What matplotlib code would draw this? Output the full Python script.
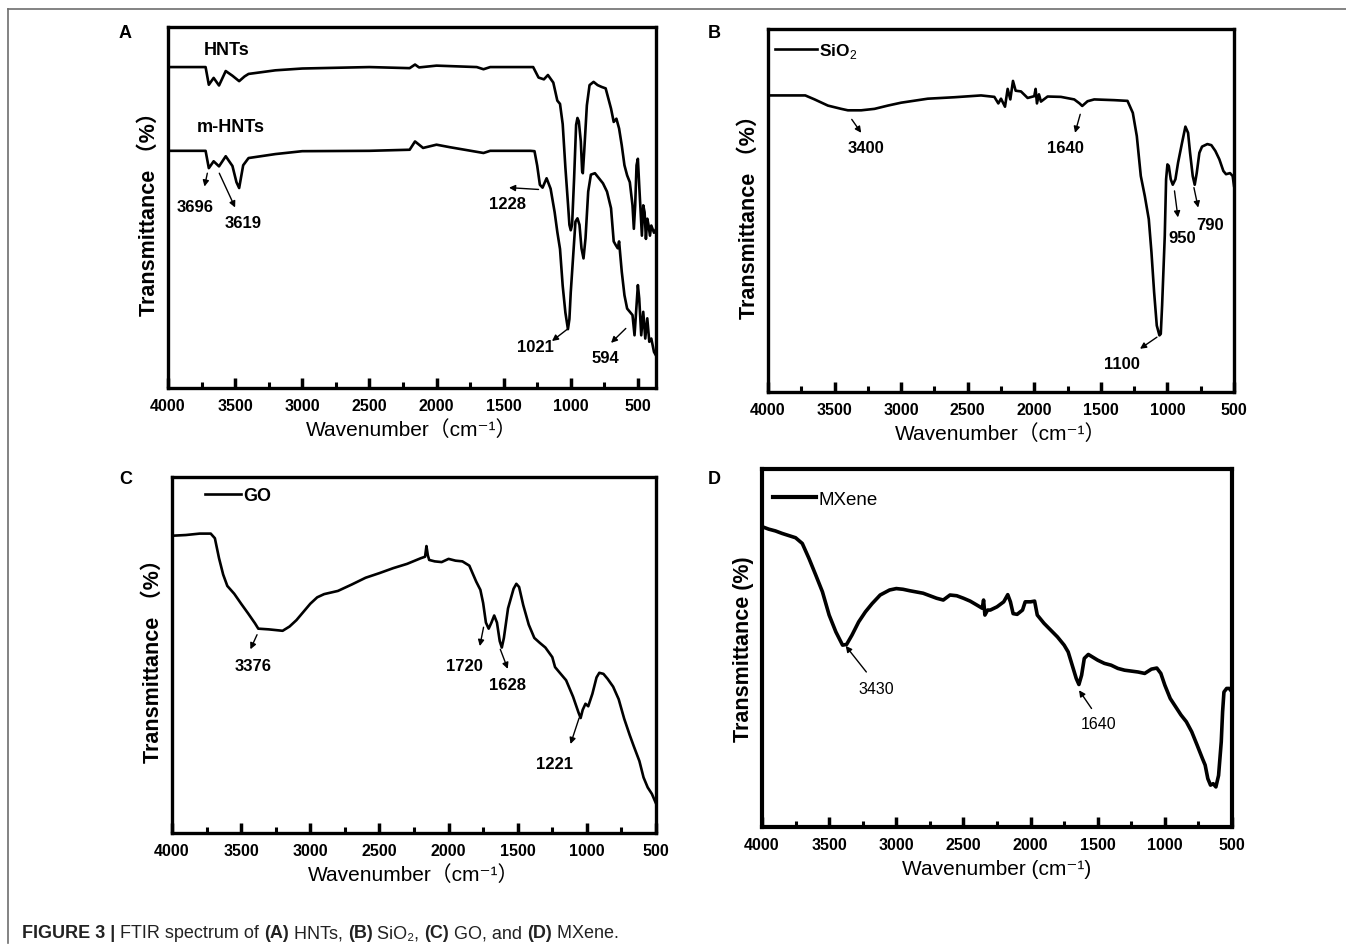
import numpy as np
import matplotlib
matplotlib.use("Agg")
import matplotlib.pyplot as plt
from matplotlib.ticker import MultipleLocator
from matplotlib.lines import Line2D

plt.rcParams["font.family"] = ["Liberation Sans", "Noto Sans CJK SC", "DejaVu Sans"]
plt.rcParams["mathtext.fontset"] = "custom"
plt.rcParams["mathtext.rm"] = "Liberation Sans"
plt.rcParams["mathtext.bf"] = "Liberation Sans:bold"

# ---- data (wavenumber cm-1, transmittance in arbitrary units 0-100) ----
hnts_wn = [4000, 3720, 3696, 3660, 3620, 3570, 3520, 3470, 3430, 3400, 3200, 3000, 2500, 2200, 2160,
           2130, 2000, 1700, 1650, 1600, 1300, 1280, 1240, 1200, 1170, 1130, 1100, 1080, 1060, 1040,
           1020, 1010, 1000, 990, 975, 960, 950, 940, 925, 915, 910, 900, 880, 860, 830, 800, 770,
           740, 720, 700, 680, 660, 640, 620, 600, 580, 560, 540, 530, 520, 510, 500, 490, 470, 460,
           450, 440, 430, 420, 410, 400, 380, 365]
hnts_t = [88.9, 88.9, 84.0, 85.9, 83.8, 87.8, 86.5, 85.0, 86.3, 87.0, 88.0, 88.5, 88.9, 88.6, 89.6,
          88.8, 89.3, 88.9, 88.3, 88.9, 88.9, 88.9, 86.0, 85.5, 86.7, 84.6, 79.6, 78.7, 73.1, 61.1,
          50.7, 45.2, 43.7, 45.2, 58.1, 72.9, 74.8, 73.9, 68.3, 60.0, 59.5, 65.4, 78.3, 83.9, 84.8,
          83.9, 83.4, 83.0, 80.2, 77.4, 73.7, 74.6, 71.9, 67.2, 61.7, 58.9, 57.0, 50.6, 44.1, 50.6,
          61.7, 63.5, 56.1, 42.2, 50.6, 48.7, 41.3, 46.9, 45.0, 42.2, 45.0, 43.0, 44.0]

mhnts_wn = [4000, 3720, 3696, 3660, 3620, 3570, 3520, 3490, 3470, 3440, 3400, 3200, 3000, 2500, 2200,
            2160, 2100, 2000, 1900, 1650, 1600, 1300, 1270, 1250, 1230, 1210, 1180, 1150, 1120,
            1100, 1080, 1060, 1040, 1021, 1010, 1000, 980, 965, 950, 935, 920, 905, 890, 870, 850,
            820, 790, 760, 730, 700, 680, 665, 650, 640, 620, 600, 580, 560, 540, 525, 510, 500,
            490, 475, 460, 445, 430, 415, 400, 380, 365]
mhnts_t = [65.7, 65.7, 60.9, 62.8, 61.4, 64.2, 61.5, 57.0, 55.4, 61.7, 63.7, 64.8, 65.6, 65.7, 66.0,
           68.3, 66.5, 67.4, 66.7, 65.1, 65.7, 65.7, 65.6, 61.6, 56.3, 55.5, 58.1, 55.2, 48.7,
           43.2, 38.5, 28.3, 20.9, 16.3, 19.1, 26.5, 37.7, 46.1, 47.0, 45.2, 38.7, 35.9, 41.5, 54.4,
           59.1, 59.5, 58.1, 56.7, 54.4, 49.8, 40.6, 39.6, 38.7, 40.6, 32.2, 25.7, 22.0, 21.1, 20.2,
           14.6, 22.9, 28.5, 24.8, 14.6, 21.1, 13.7, 19.3, 12.8, 13.7, 10.0, 9.0]

sio2_wn = [4000, 3720, 3650, 3550, 3450, 3400, 3300, 3200, 3100, 3000, 2800, 2600, 2400, 2300, 2270,
           2250, 2220, 2200, 2180, 2160, 2140, 2100, 2050, 2000, 1990, 1980, 1965, 1950, 1900, 1800,
           1700, 1660, 1640, 1600, 1550, 1400, 1300, 1260, 1230, 1200, 1170, 1140, 1120, 1100,
           1080, 1060, 1050, 1040, 1020, 1010, 1000, 990, 975, 960, 940, 920, 890, 865, 845, 830,
           810, 795, 780, 760, 740, 700, 670, 640, 610, 580, 560, 530, 510, 500]
sio2_t = [81.7, 81.7, 80.6, 78.9, 78.0, 77.6, 77.6, 78.0, 78.9, 79.7, 80.8, 81.2, 81.7, 81.3, 79.5,
          80.8, 78.6, 83.5, 80.6, 85.7, 83.0, 82.8, 81.0, 81.5, 83.5, 79.5, 82.0, 80.0, 81.4, 81.3,
          80.6, 79.5, 78.8, 80.1, 80.6, 80.4, 80.2, 76.9, 70.5, 59.5, 54.0, 47.6, 38.5, 27.5,
          18.3, 15.6, 16.0, 23.8, 43.0, 58.6, 62.7, 62.3, 58.6, 57.1, 58.6, 63.2, 68.7, 73.1, 71.4,
          65.9, 59.5, 57.1, 60.3, 65.9, 67.6, 68.3, 68.0, 66.4, 64.1, 60.9, 60.0, 60.3, 59.5, 56.8]

go_wn = [4000, 3900, 3800, 3720, 3690, 3660, 3630, 3600, 3550, 3500, 3450, 3400, 3376, 3300, 3200,
         3150, 3100, 3000, 2950, 2900, 2800, 2700, 2600, 2500, 2400, 2300, 2200, 2170, 2160, 2150,
         2140, 2100, 2050, 2000, 1950, 1900, 1850, 1800, 1770, 1750, 1730, 1710, 1690, 1670, 1650,
         1630, 1615, 1600, 1570, 1530, 1510, 1490, 1460, 1420, 1380, 1340, 1300, 1250, 1230,
         1200, 1150, 1100, 1060, 1045, 1030, 1010, 990, 960, 930, 910, 880, 850, 810, 770, 730,
         690, 660, 620, 590, 560, 530, 500]
go_t = [83.5, 83.7, 84.1, 84.1, 82.8, 77.2, 72.6, 69.4, 67.2, 64.4, 61.7, 58.9, 57.4, 57.2, 56.8,
        58.0, 59.8, 64.4, 66.2, 67.1, 68.0, 69.8, 71.7, 73.0, 74.4, 75.6, 77.2, 77.6, 80.6, 78.0,
        76.7, 76.3, 76.1, 77.0, 76.5, 76.3, 75.1, 70.6, 68.3, 64.6, 59.1, 57.4, 59.1, 61.1, 59.1,
        53.9, 52.1, 54.8, 63.1, 68.6, 70.0, 69.1, 64.0, 58.5, 54.8, 53.4, 52.1, 49.4, 46.6,
        45.2, 42.9, 38.3, 33.8, 32.3, 34.6, 36.3, 35.6, 39.1, 43.7, 45.0, 44.7, 43.3, 41.1, 37.6,
        32.1, 27.5, 24.3, 20.2, 15.6, 12.8, 11.0, 8.3]

mx_wn = [4000, 3950, 3900, 3850, 3800, 3750, 3700, 3650, 3600, 3550, 3500, 3450, 3400, 3370, 3330,
         3280, 3230, 3180, 3120, 3050, 3000, 2950, 2900, 2800, 2700, 2650, 2600, 2550, 2500, 2450,
         2400, 2360, 2350, 2340, 2320, 2300, 2250, 2200, 2170, 2150, 2130, 2100, 2060, 2040, 2000,
         1970, 1950, 1900, 1850, 1800, 1750, 1720, 1690, 1660, 1640, 1620, 1600, 1570, 1500, 1450,
         1400, 1350, 1300, 1200, 1150, 1100, 1060, 1030, 1000, 960, 920, 880, 840, 800, 760, 720,
         700, 680, 660, 640, 620, 600, 580, 570, 560, 540, 520, 500]
mx_t = [83.9, 83.2, 82.7, 82.0, 81.4, 80.8, 79.2, 75.0, 70.4, 65.7, 59.2, 54.5, 50.8, 51.0, 53.6,
        57.3, 60.1, 62.4, 64.8, 66.2, 66.6, 66.4, 66.0, 65.3, 63.9, 63.4, 64.8, 64.6, 63.9, 63.1,
        62.0, 61.1, 63.4, 59.2, 60.6, 60.6, 61.5, 62.9, 64.9, 62.9, 59.6, 59.4, 60.6, 62.9, 62.9,
        63.1, 59.2, 56.9, 55.0, 53.1, 50.8, 48.9, 45.2, 41.5, 39.8, 42.4, 47.1, 48.2, 46.6, 45.7,
        45.2, 44.3, 43.8, 43.3, 42.9, 44.1, 44.4, 42.9, 39.6, 35.9, 33.6, 31.3, 29.4, 26.6, 22.9,
        19.1, 17.3, 13.5, 11.7, 12.1, 11.2, 14.4, 23.8, 32.2, 37.7, 38.7, 38.7, 37.7]

xticks = [4000, 3500, 3000, 2500, 2000, 1500, 1000, 500]

# annotations: label, text (wn, T), arrow tail (wn, T), arrow head (wn, T)
ann_a = [("3696", (3796, 50.3), (3707, 59.5), (3728, 55.8)),
         ("3619", (3443, 45.9), (3618, 59.5), (3500, 50.0)),
         ("1228", (1470, 51.0), (1240, 55.0), (1460, 55.5)),
         ("1021", (1265, 11.5), (1025, 16.3), (1140, 13.0)),
         ("594", (740, 8.5), (590, 16.5), (700, 12.5))]
ann_b = [("3400", (3266, 67.3), (3371, 75.1), (3300, 71.4)),
         ("1640", (1766, 67.3), (1655, 76.5), (1694, 71.4)),
         ("1100", (1338, 7.8), (1079, 15.1), (1206, 11.9)),
         ("950", (889, 42.6), (947, 55.4), (921, 48.1)),
         ("790", (677, 46.2), (801, 56.3), (769, 50.8))]
ann_c = [("3376", (3412, 47.0), (3385, 55.7), (3433, 51.6)),
         ("1720", (1882, 47.0), (1747, 57.8), (1774, 52.5)),
         ("1628", (1572, 41.7), (1626, 51.6), (1572, 46.1)),
         ("1221", (1234, 19.4), (1056, 32.3), (1118, 25.0))]
ann_d = [("3430", (3151, 38.7), (3223, 43.3), (3377, 50.6)),
         ("1640", (1493, 28.9), (1546, 33.1), (1639, 38.2))]

W, H = 1346, 953
fig = plt.figure(figsize=(W / 100, H / 100), dpi=100)


def px_axes(l, t, r, b):
    return fig.add_axes([l / W, 1 - b / H, (r - l) / W, (b - t) / H])


def style(ax, xmin, xlabel, ylabel):
    ax.set_xlim(4000, xmin)
    ax.set_ylim(0, 100)
    ax.set_xticks(xticks)
    ax.xaxis.set_minor_locator(MultipleLocator(250))
    ax.set_yticks([])
    ax.tick_params(axis="x", which="major", direction="in", length=7, width=2.5,
                   labelsize=11.5, pad=7, top=False)
    ax.tick_params(axis="x", which="minor", direction="in", length=4, width=2.2, top=False)
    for lb in ax.get_xticklabels():
        lb.set_fontweight("bold")
    for s in ax.spines.values():
        s.set_linewidth(2.4)
    ax.set_xlabel(xlabel, fontsize=15, labelpad=5)
    ax.set_ylabel(ylabel, fontsize=15.5, fontweight="bold", labelpad=6)


def annotate(ax, items, bold=True, size=12):
    for lab, tpos, p1, p2 in items:
        ax.text(tpos[0], tpos[1], lab, ha="center", va="center", fontsize=size,
                fontweight="bold" if bold else "normal")
        ax.annotate("", xy=p2, xytext=p1,
                    arrowprops=dict(arrowstyle="-|>", color="black", lw=1.0,
                                    mutation_scale=9, shrinkA=0, shrinkB=0))


def legend(ax, x, y, hl, size, weight):
    lg = ax.legend(loc="center left", bbox_to_anchor=(x, y), frameon=False, handlelength=hl,
                   handletextpad=0.15, borderaxespad=0, borderpad=0,
                   prop=dict(weight=weight, size=size))
    return lg


lw = 1.9

# ---- A ----
axA = px_axes(168, 28, 656, 389)
axA.plot(hnts_wn, hnts_t, color="black", lw=lw)
axA.plot(mhnts_wn, mhnts_t, color="black", lw=lw)
axA.text(3730, 93.9, "HNTs", fontsize=13, fontweight="bold", va="center")
axA.text(3784, 72.3, "m-HNTs", fontsize=13, fontweight="bold", va="center")
style(axA, 365, "Wavenumber\uff08cm\u207b\u00b9\uff09", "Transmittance \uff08%\uff09")
annotate(axA, ann_a)

# ---- B ----
axB = px_axes(768, 30, 1234, 393)
axB.plot(sio2_wn, sio2_t, color="black", lw=lw, label="SiO$_2$")
style(axB, 500, "Wavenumber\uff08cm\u207b\u00b9\uff09", "Transmittance \uff08%\uff09")
annotate(axB, ann_b)
legend(axB, 0.015, 0.94, 2.4, 12.5, "bold")

# ---- C ----
axC = px_axes(172, 478, 656, 834)
axC.plot(go_wn, go_t, color="black", lw=lw, label="GO")
style(axC, 500, "Wavenumber\uff08cm\u207b\u00b9\uff09", "Transmittance \uff08%\uff09")
annotate(axC, ann_c)
legend(axC, 0.068, 0.947, 2.0, 13, "bold")

# ---- D ----
axD = px_axes(762, 470, 1232, 828)
axD.plot(mx_wn, mx_t, color="black", lw=2.6, label="MXene")
style(axD, 500, "Wavenumber (cm\u207b\u00b9)", "Transmittance (%)")
for s in axD.spines.values():
    s.set_linewidth(3)
annotate(axD, ann_d, bold=False, size=11.5)
lgD = legend(axD, 0.023, 0.916, 2.3, 13.5, "normal")
for ln in lgD.get_lines():
    ln.set_linewidth(3)

# panel letters
for lab, x, y in [("A", 125, 33), ("B", 714, 33), ("C", 126, 480), ("D", 714, 480)]:
    fig.text(x / W, 1 - y / H, lab, fontsize=13, fontweight="bold", ha="center", va="center")

# frame lines
fig.add_artist(Line2D([8 / W, 1], [1 - 10 / H, 1 - 10 / H], color="#6e6e6e", lw=1.2))
fig.add_artist(Line2D([8 / W, 8 / W], [1 - 10 / H, 1 - 944 / H], color="#6e6e6e", lw=1.2))

# caption with mixed weights
runs = [("FIGURE 3 | ", "bold"), ("FTIR spectrum of ", "normal"), ("(A)", "bold"),
        (" HNTs, ", "normal"), ("(B)", "bold"), (" SiO\u2082, ", "normal"), ("(C)", "bold"),
        (" GO, and ", "normal"), ("(D)", "bold"), (" MXene.", "normal")]
renderer = fig.canvas.get_renderer()
x = 22
for txt, wt in runs:
    t = fig.text(x / W, 1 - 934 / H, txt, fontsize=13, fontweight=wt,
                 family=["Liberation Sans", "DejaVu Sans"],
                 ha="left", va="center", color="#222222")
    bb = t.get_window_extent(renderer)
    x += bb.width

fig.savefig("out.png", dpi=100)
